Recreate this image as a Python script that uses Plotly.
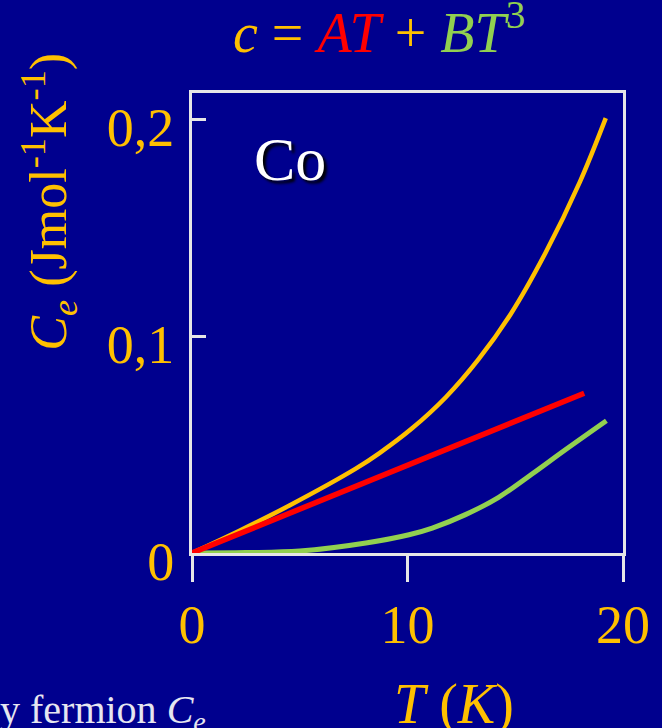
import plotly.graph_objects as go

# ---- data ----
T_total = [0, 2.2, 4.5, 7.6, 8.7, 10.2, 11.8, 13.3, 14.8, 16.4, 18.0, 19.2]
C_total = [0, 0.0103, 0.0218, 0.0389, 0.0461, 0.0574, 0.0721, 0.0894, 0.1104, 0.1384,
           0.1712, 0.2006]

T_lin = [0, 18.2]
C_lin = [0, 0.0737]

T_cub = [0, 2.5, 5.0, 8.07, 10.07, 11.15, 12.69, 14.23, 15.76, 17.31, 19.23]
C_cub = [0, 0.0002, 0.0009, 0.0046, 0.0084, 0.0115, 0.0177, 0.0257, 0.0363, 0.0475, 0.0610]

x_tickvals = [0, 10, 20]
x_ticktext = ["0", "10", "20"]
y_tickvals = [0, 0.1, 0.2]
y_ticktext = ["0", "0,1", "0,2"]

GOLD = "#FFC000"
RED = "#FF0000"
GREEN = "#92D050"
BG = "#00008E"
AXC = "#E6E6E6"
SERIF = "Liberation Serif, Times New Roman, serif"

W, H = 662, 728
L, R, TOP, BOT = 192, 37, 93, 175
PW, PH = W - L - R, H - TOP - BOT


def px(x):
    return (x - L) / PW


def py(y):
    return (H - BOT - y) / PH


fig = go.Figure()
fig.add_trace(go.Scatter(x=T_total, y=C_total, mode="lines",
                         line=dict(color=GOLD, width=4.5, shape="spline", smoothing=1.0),
                         showlegend=False, hoverinfo="skip"))
fig.add_trace(go.Scatter(x=T_cub, y=C_cub, mode="lines",
                         line=dict(color=GREEN, width=5, shape="spline", smoothing=1.0),
                         showlegend=False, hoverinfo="skip"))
fig.add_trace(go.Scatter(x=T_lin, y=C_lin, mode="lines",
                         line=dict(color=RED, width=5.5),
                         showlegend=False, hoverinfo="skip"))

fig.update_layout(
    width=W, height=H,
    margin=dict(l=L, r=R, t=TOP, b=BOT),
    paper_bgcolor=BG, plot_bgcolor=BG,
    font=dict(family=SERIF, color=GOLD),
    showlegend=False,
)

fig.update_xaxes(
    range=[0, 20], tickvals=x_tickvals, ticktext=x_ticktext,
    showgrid=False, zeroline=False,
    showline=True, mirror=True, linecolor=AXC, linewidth=3,
    ticks="outside", ticklen=26, tickwidth=3, tickcolor=AXC,
    tickfont=dict(family=SERIF, size=54, color=GOLD),
    ticklabelstandoff=-4,
)
fig.update_yaxes(
    range=[0, 0.2122], tickvals=y_tickvals, ticktext=y_ticktext,
    showgrid=False, zeroline=False,
    showline=True, mirror=True, linecolor=AXC, linewidth=3,
    ticks="inside", ticklen=14, tickwidth=3, tickcolor=AXC,
    tickfont=dict(family=SERIF, size=54, color=GOLD),
    ticklabelstandoff=4, ticklabelshift=8,
)

ann = []
# Title formula
ann.append(dict(
    x=px(380), y=py(29), xref="paper", yref="paper", xanchor="center", yanchor="middle",
    showarrow=False,
    text=("<i>c</i>&nbsp;=&nbsp;<span style='color:%s'><i>AT</i></span>&nbsp;+&nbsp;"
          "<span style='color:%s'><i>BT</i><sup>3</sup></span>") % (RED, GREEN),
    font=dict(family=SERIF, size=56, color=GOLD),
))
# Y-axis title
ann.append(dict(
    x=px(48), y=py(202), xref="paper", yref="paper", xanchor="center", yanchor="middle",
    showarrow=False, textangle=-90,
    text="<i>C<sub>e</sub></i>&nbsp;(Jmol<sup>-1</sup>K<sup>-1</sup>)",
    font=dict(family=SERIF, size=52, color=GOLD),
))
# X-axis title
ann.append(dict(
    x=px(455), y=py(704), xref="paper", yref="paper", xanchor="center", yanchor="middle",
    showarrow=False,
    text="<i>T</i>&nbsp;(<i>K</i>)",
    font=dict(family=SERIF, size=56, color=GOLD),
))
# Element label
ann.append(dict(
    x=px(290), y=py(159), xref="paper", yref="paper", xanchor="center", yanchor="middle",
    showarrow=False,
    text="Co",
    font=dict(family=SERIF, size=62, color="white", shadow="3px 3px 3px #000000"),
))
# Cut-off text at bottom left
ann.append(dict(
    x=px(-3), y=py(712), xref="paper", yref="paper", xanchor="left", yanchor="middle",
    showarrow=False,
    text="y fermion <i>C<sub>e</sub></i>",
    font=dict(family=SERIF, size=40, color="#E6E6F0"),
))
fig.update_layout(annotations=ann)

fig.write_html("out.html", config={"displayModeBar": False},
               post_script="document.body.style.margin='0';document.body.style.background='%s';" % BG)
